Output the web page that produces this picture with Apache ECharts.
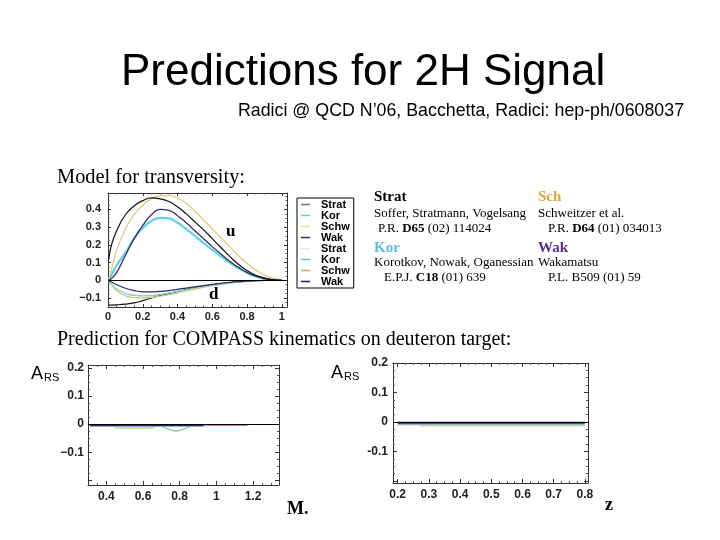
<!DOCTYPE html>
<html>
<head>
<meta charset="utf-8">
<script src="https://cdn.jsdelivr.net/npm/echarts@6/dist/echarts.min.js"></script>
<style>html,body{margin:0;padding:0;background:#fff}#c{width:720px;height:540px}</style>
</head>
<body>
<div id="c"></div>
<script>
// ---- Top panel: transversity model, x grid and curves ----
const xs = [0.005, 0.02, 0.05, 0.1, 0.15, 0.2, 0.25, 0.3, 0.35, 0.4, 0.45, 0.5, 0.55, 0.6, 0.65, 0.7, 0.75, 0.8, 0.85, 0.9, 0.95, 1.0];
const stratU = [0.12, 0.2, 0.28, 0.37, 0.42, 0.45, 0.465, 0.46, 0.445, 0.415, 0.375, 0.33, 0.285, 0.235, 0.185, 0.135, 0.09, 0.055, 0.028, 0.012, 0.003, 0];
const korU   = [0.005, 0.03, 0.085, 0.155, 0.235, 0.295, 0.335, 0.352, 0.35, 0.325, 0.29, 0.25, 0.21, 0.172, 0.135, 0.1, 0.068, 0.042, 0.022, 0.009, 0.003, 0];
const schwU  = [0.01, 0.06, 0.17, 0.29, 0.37, 0.425, 0.46, 0.478, 0.478, 0.465, 0.435, 0.39, 0.34, 0.29, 0.24, 0.19, 0.14, 0.095, 0.058, 0.03, 0.012, 0.004];
const wakU   = [0.0, 0.01, 0.045, 0.14, 0.235, 0.31, 0.37, 0.4, 0.395, 0.365, 0.325, 0.28, 0.235, 0.19, 0.148, 0.108, 0.074, 0.045, 0.024, 0.01, 0.003, 0];
const stratD = [-0.14, -0.14, -0.139, -0.135, -0.128, -0.115, -0.1, -0.087, -0.075, -0.064, -0.053, -0.043, -0.034, -0.026, -0.019, -0.013, -0.008, -0.005, -0.002, -0.001, 0, 0];
const korD   = [-0.004, -0.02, -0.05, -0.075, -0.085, -0.088, -0.086, -0.08, -0.072, -0.063, -0.054, -0.045, -0.036, -0.028, -0.021, -0.015, -0.01, -0.006, -0.003, -0.001, 0, 0];
const schwD  = [-0.005, -0.025, -0.06, -0.088, -0.098, -0.1, -0.097, -0.09, -0.081, -0.071, -0.06, -0.05, -0.04, -0.031, -0.023, -0.016, -0.01, -0.006, -0.003, -0.001, 0, 0];
const wakD   = [-0.002, -0.01, -0.025, -0.045, -0.058, -0.065, -0.066, -0.063, -0.058, -0.051, -0.044, -0.037, -0.03, -0.023, -0.017, -0.012, -0.008, -0.005, -0.002, -0.001, 0, 0];
const legendNames = ['Strat', 'Kor', 'Schw', 'Wak', 'Strat', 'Kor', 'Schw', 'Wak'];

// ---- Bottom-left panel: A_RS vs M ----
const mLightX = [0.31, 0.95];      const mLightY = [-0.006, -0.006];
const mNavyX  = [0.31, 0.93];      const mNavyY  = [-0.004, -0.004];
const mGreenX = [0.44, 0.46, 0.65, 0.67]; const mGreenY = [-0.005, -0.014, -0.014, -0.005];
const mDipX   = [0.7, 0.74, 0.78, 0.82, 0.86]; const mDipY = [-0.006, -0.018, -0.024, -0.018, -0.006];
const mRedX   = [0.95, 1.17];      const mRedY   = [-0.004, -0.004];

// ---- Bottom-right panel: A_RS vs z ----
const zLightX = [0.2, 0.8];  const zLightY = [-0.008, -0.008];
const zGreenX = [0.27, 0.8]; const zGreenY = [-0.013, -0.013];
const zNavyX  = [0.2, 0.8];  const zNavyY  = [-0.003, -0.003];

const zip = (a, b) => a.map((v, i) => [v, b[i]]);
const SANS = '"Liberation Sans", Arial, sans-serif';
const SERIF = '"Liberation Serif", "Times New Roman", serif';

function fmt(step, minusChar, lowCut) {
  return function (v) {
    const r = Math.round(v / step) * step;
    if (Math.abs(v - r) > 1e-6) return '';
    if (lowCut !== undefined && lowCut !== null && r < lowCut) return '';
    let s = String(Math.round(r * 10) / 10);
    if (minusChar) s = s.replace('-', minusChar);
    return s;
  };
}
function axisCommon(tickLen) {
  return {
    axisLine: { show: true, onZero: false, lineStyle: { color: '#333', width: 1 } },
    axisTick: { show: true, inside: true, length: tickLen, lineStyle: { color: '#333' } },
    minorTick: { show: true, splitNumber: 4, length: tickLen / 2, lineStyle: { color: '#555' } },
    splitLine: { show: false }
  };
}
function axisX(grid, min, max, pos, show, size, step, margin, tickLen) {
  return Object.assign({
    type: 'value', gridIndex: grid, min: min, max: max, position: pos,
    axisLabel: { show: show, formatter: fmt(step), fontFamily: SANS, fontWeight: 'bold', fontSize: size, color: '#222', margin: margin }
  }, axisCommon(tickLen));
}
function axisY(grid, min, max, pos, show, size, step, margin, tickLen, minusChar, lowCut) {
  return Object.assign({
    type: 'value', gridIndex: grid, min: min, max: max, position: pos,
    axisLabel: { show: show, formatter: fmt(step, minusChar, lowCut), fontFamily: SANS, fontWeight: 'bold', fontSize: size, color: '#222', margin: margin }
  }, axisCommon(tickLen));
}
function line(name, data, color, width, xi, yi, extra) {
  return Object.assign({
    name: name, type: 'line', data: data, xAxisIndex: xi, yAxisIndex: yi,
    symbol: 'none', smooth: false, silent: true,
    lineStyle: { color: color, width: width }, itemStyle: { color: color }
  }, extra || {});
}
const zeroLine = { silent: true, symbol: 'none', label: { show: false }, lineStyle: { color: '#000', width: 1, type: 'solid' }, data: [{ yAxis: 0 }] };

const topNames = ['Strat u', 'Kor u', 'Schw u', 'Wak u', 'Strat d', 'Kor d', 'Schw d', 'Wak d'];
const legendIcon = ['#777777', '#5cd3e0', '#efd88f', '#3a2a6a', '#e4e4e4', '#4cc8d8', '#c8a860', '#202060'];

function txt(x, y, text, font, fill, rich) {
  const st = { text: text, font: font, fill: fill || '#000', verticalAlign: 'middle', align: 'left' };
  if (rich) st.rich = rich;
  return { type: 'text', x: x, y: y, style: st, silent: true };
}
const bold13 = { b: { fontFamily: SERIF, fontWeight: 'bold', fontSize: 13, fill: '#000' } };

const option = {
  animation: false,
  backgroundColor: '#ffffff',
  grid: [
    { left: 108, top: 193, width: 179, height: 114 },
    { left: 88, top: 365, width: 191, height: 120 },
    { left: 393, top: 363, width: 195, height: 120 }
  ],
  xAxis: [
    axisX(0, 0, 1.03, 'bottom', true, 11, 0.2, 4, 3),
    axisX(0, 0, 1.03, 'top', false, 11, 0.2, 4, 3),
    axisX(1, 0.3, 1.342, 'bottom', true, 12, 0.2, 6, 4),
    axisX(1, 0.3, 1.342, 'top', false, 12, 0.2, 6, 4),
    axisX(2, 0.185, 0.81, 'bottom', true, 12, 0.1, 6, 4),
    axisX(2, 0.185, 0.81, 'top', false, 12, 0.1, 6, 4)
  ],
  yAxis: [
    axisY(0, -0.151, 0.493, 'left', true, 11, 0.1, 7, 3, '\u2212'),
    axisY(0, -0.151, 0.493, 'right', false, 11, 0.1, 7, 3),
    axisY(1, -0.216, 0.21, 'left', true, 12, 0.1, 4, 4, '\u2212', -0.15),
    axisY(1, -0.216, 0.21, 'right', false, 12, 0.1, 4, 4),
    axisY(2, -0.207, 0.2, 'left', true, 12, 0.1, 5, 4, null, -0.15),
    axisY(2, -0.207, 0.2, 'right', false, 12, 0.1, 5, 4)
  ],
  legend: {
    orient: 'vertical', left: 297, top: 198,
    padding: [1, 4, 1, 4], itemGap: 0, itemWidth: 9, itemHeight: 1.5,
    icon: 'rect',
    borderColor: '#000', borderWidth: 1,
    selectedMode: false,
    formatter: name => name.split(' ')[0],
    textStyle: { fontFamily: SANS, fontWeight: 'bold', fontSize: 11, lineHeight: 9.6, color: '#000', padding: [0, 0, 0, 6] },
    data: topNames.map((n, i) => ({ name: n, icon: 'rect', itemStyle: { color: legendIcon[i] } }))
  },
  series: [
    line('Strat d', zip(xs, stratD), '#111111', 1.2, 0, 0, { smooth: true }),
    line('Kor d', zip(xs, korD), '#7fd6c0', 1.4, 0, 0, { smooth: true }),
    line('Schw d', zip(xs, schwD), '#c8c890', 1.2, 0, 0, { smooth: true }),
    line('Wak d', zip(xs, wakD), '#2a2a70', 1.2, 0, 0, { smooth: true }),
    line('Kor u', zip(xs, korU), '#5cd3e8', 2.2, 0, 0, { smooth: true }),
    line('Schw u', zip(xs, schwU), '#e2c47a', 1.2, 0, 0, { smooth: true }),
    line('Wak u', zip(xs, wakU), '#3a2a6a', 1.3, 0, 0, { smooth: true }),
    line('Strat u', zip(xs, stratU), '#111111', 1.2, 0, 0, { smooth: true, markLine: zeroLine }),

    line('mLight', zip(mLightX, mLightY), '#9ab4d0', 1.5, 2, 2, { markLine: zeroLine }),
    line('mGreen', zip(mGreenX, mGreenY), '#b8d8a0', 1.5, 2, 2),
    line('mDip', zip(mDipX, mDipY), '#9cd0b0', 1.5, 2, 2, { smooth: true }),
    line('mNavy', zip(mNavyX, mNavyY), '#1a2a6a', 2, 2, 2),
    line('mRed', zip(mRedX, mRedY), '#d07080', 1.5, 2, 2),

    line('zGreen', zip(zGreenX, zGreenY), '#d4e4a4', 2, 4, 4, { markLine: zeroLine }),
    line('zLight', zip(zLightX, zLightY), '#90b0c8', 2, 4, 4),
    line('zNavy', zip(zNavyX, zNavyY), '#1a2a6a', 2, 4, 4)
  ],
  graphic: [
    txt(121, 72.5, 'Predictions for 2H Signal', '44px ' + SANS),
    txt(238, 111, 'Radici @ QCD N\u201906, Bacchetta, Radici: hep-ph/0608037', '17.8px ' + SANS),
    txt(57, 178, 'Model for transversity:', '20.4px ' + SERIF),
    txt(226, 232, 'u', 'bold 17px ' + SERIF),
    txt(209, 295, 'd', 'bold 17px ' + SERIF),
    txt(374, 197, 'Strat', 'bold 15px ' + SERIF, '#000'),
    txt(538, 197, 'Sch', 'bold 15px ' + SERIF, '#d4a83a'),
    txt(374, 214, 'Soffer, Stratmann, Vogelsang', '13px ' + SERIF),
    txt(538, 214, 'Schweitzer et al.', '13px ' + SERIF),
    txt(378, 229, 'P.R. {b|D65} (02) 114024', '13px ' + SERIF, '#000', bold13),
    txt(548, 229, 'P.R. {b|D64} (01) 034013', '13px ' + SERIF, '#000', bold13),
    txt(374, 248, 'Kor', 'bold 15px ' + SERIF, '#5bbde2'),
    txt(538, 248, 'Wak', 'bold 15px ' + SERIF, '#5a2d91'),
    txt(374, 263, 'Korotkov, Nowak, Oganessian', '13px ' + SERIF),
    txt(538, 263, 'Wakamatsu', '13px ' + SERIF),
    txt(384, 277.5, 'E.P.J. {b|C18} (01) 639', '13px ' + SERIF, '#000', bold13),
    txt(548, 277.5, 'P.L. B509 (01) 59', '13px ' + SERIF),
    txt(57, 340, 'Prediction for COMPASS kinematics on deuteron target:', '20px ' + SERIF),
    txt(31, 374, 'A', '18px ' + SANS),
    txt(44, 377.5, 'RS', '11px ' + SANS),
    txt(331, 373, 'A', '18px ' + SANS),
    txt(344, 376.5, 'RS', '11px ' + SANS),
    txt(287, 509, 'M.', 'bold 18px ' + SERIF),
    txt(605, 505, 'z', 'bold 18px ' + SERIF)
  ]
};
const chart = echarts.init(document.getElementById('c'), null, { renderer: 'canvas' });
chart.setOption(option);
</script>
</body>
</html>
